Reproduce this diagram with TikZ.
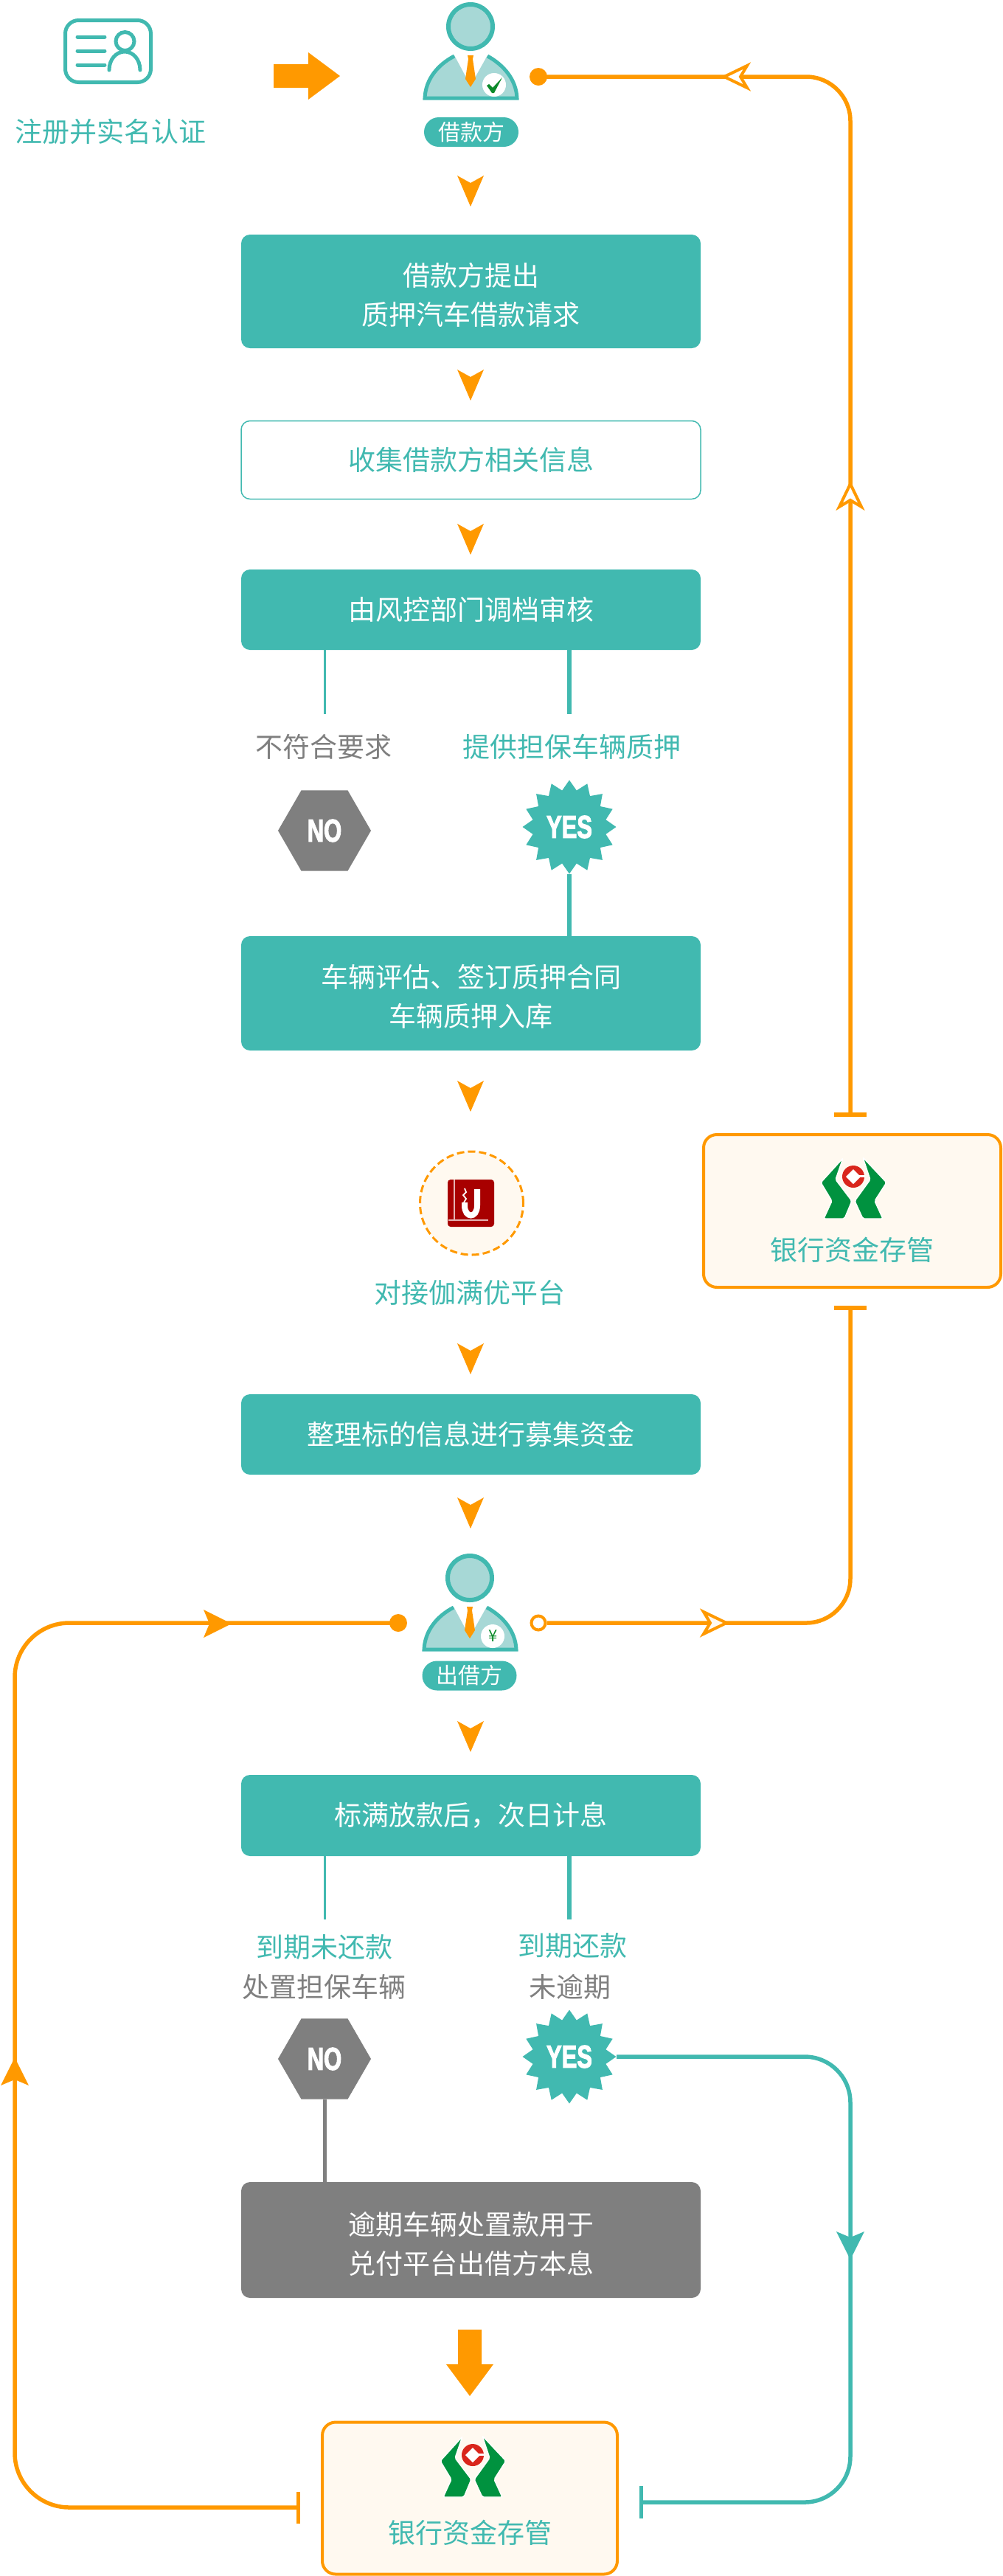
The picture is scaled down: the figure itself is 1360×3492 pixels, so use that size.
\documentclass[tikz,border=0pt]{standalone}
\usepackage{fontspec}
\usepackage{graphicx}
\usetikzlibrary{shapes.geometric}
\setmainfont{Noto Sans CJK SC}
\newfontfamily\badgefont[FakeBold=3]{Liberation Sans}
\definecolor{flowteal}{HTML}{41B9B0}
\definecolor{paleteal}{HTML}{A7D8D6}
\definecolor{floworange}{HTML}{FF9900}
\definecolor{flowgray}{HTML}{7F7F7F}
\definecolor{cream}{HTML}{FFF9F0}
\definecolor{bankgreen}{HTML}{00923F}
\definecolor{bankred}{HTML}{D9261C}
\definecolor{bookred}{HTML}{A80000}
\definecolor{markgreen}{HTML}{0B8A2A}
\newcommand{\badgetext}[1]{\scalebox{0.72}[1]{\fontsize{21.5}{21.5}\badgefont\bfseries #1}}
\newcommand{\linelift}{\rule{0pt}{20.5pt}}
\tikzset{
  bodyfont/.style={font=\fontsize{18.5}{26.5}\selectfont},
  flowbox/.style={rectangle,rounded corners=6pt,fill=flowteal,text=white,bodyfont,align=center,minimum width=311.5pt,inner sep=0pt},
  plainbox/.style={flowbox,fill=white,draw=flowteal,line width=0.75pt,text=flowteal},
  graybox/.style={flowbox,fill=flowgray},
  bankbox/.style={rectangle,rounded corners=9pt,fill=cream,draw=floworange,line width=2pt,inner sep=0pt},
  rolepill/.style={rectangle,rounded corners=10pt,fill=flowteal,text=white,font=\fontsize{15}{15}\selectfont,minimum width=64pt,minimum height=20pt,inner sep=0pt},
  teallabel/.style={text=flowteal,bodyfont,inner sep=0pt},
  graylabel/.style={text=flowgray,bodyfont,inner sep=0pt},
  nohex/.style={regular polygon,regular polygon sides=6,fill=flowgray,text=white,minimum size=63pt,inner sep=0pt},
  yesstar/.style={star,star points=16,star point ratio=1.26,fill=flowteal,text=white,minimum size=63.5pt,inner sep=0pt},
  dotend/.style={circle,fill=floworange,minimum size=12pt,inner sep=0pt},
  ringend/.style={circle,draw=floworange,line width=2pt,fill=white,minimum size=9.5pt,inner sep=0pt},
  barend/.style={rectangle,fill=#1,inner sep=0pt},
  orangeline/.style={draw=floworange,line width=2.75pt},
  tealline/.style={draw=flowteal,line width=2.75pt},
  thinline/.style={draw=flowteal,line width=1.5pt},
  badge/.style={circle,fill=white,minimum size=16pt,inner sep=0pt},
  openarrow/.pic={\draw[draw=floworange,line width=2pt,miter limit=4,pic actions] (-3,0) -- (-34,-15) -- (-25,0) -- (-34,15) -- cycle;},
  fullarrow/.pic={\fill[pic actions] (0,0) -- (-38,-19) -- (-30,0) -- (-38,19) -- cycle;},
  dartarrow/.pic={\fill[floworange] (0,0) -- (-18,-42) -- (0,-32) -- (18,-42) -- cycle;},
  bigarrow/.pic={\fill[floworange] (0,0) -- (-43,-32) -- (-43,-16) -- (-90,-16) -- (-90,16) -- (-43,16) -- (-43,32) -- cycle;},
  person/.pic={
    \fill[paleteal] (-63,98) .. controls (-61,72) and (-45,52) .. (-22,39) -- (0,80) -- (23,39) .. controls (45,52) and (62,72) .. (64,98) -- cycle;
    \draw[flowteal,line width=2.5pt] (-22,40) .. controls (-45,52) and (-61,72) .. (-62,97) -- (63,97) .. controls (62,72) and (45,52) .. (23,40);
    \draw[flowteal,line width=3pt,fill=paleteal] (0,0) circle [radius=30];
    \fill[floworange] (-4,39) -- (4,39) -- (3,44) -- (7,71) -- (0,82) -- (-7,71) -- (-3,44) -- cycle;
  },
  banklogo/.pic={
    \filldraw[bankgreen,draw=white,line width=0.7pt,rounded corners=1pt] (-14,-45) -- (-44,-12) -- (-29,13) -- (-40,37) -- (-12,37) -- (-2,13) -- (-24,-16) -- cycle;
    \filldraw[bankgreen,draw=white,line width=0.7pt,rounded corners=1pt] (13,-46) -- (45,-12) -- (29,13) -- (40,37) -- (13,37) -- (2,13) -- (23,-16) -- cycle;
    \fill[bankred] (0,-20) circle [radius=15];
    \fill[white] (-10,-20) -- (0,-30) -- (10,-20) -- (0,-10) -- cycle;
    \fill[white] (4,-22) rectangle (16,-19.5);
  }
}
\begin{document}
\begin{tikzpicture}[x=0.5pt,y=-0.5pt]
\useasboundingbox (0,0) rectangle (1360,3492);
\draw[flowteal,line width=2.5pt,rounded corners=9pt] (88.5,27.5) rectangle (204.5,111.5);
\draw[flowteal,line width=2.5pt,line cap=round] (105,50) -- (142,50) (105,69) -- (142,69) (105,88) -- (142,88);
\draw[flowteal,line width=2.5pt] (169.5,56) circle [radius=12.5];
\draw[flowteal,line width=2.5pt,line cap=round] (148,95) .. controls (148,80) and (158,70) .. (169,70) .. controls (180,70) and (190,80) .. (190,95);
\node[teallabel] (signup) at (149.5,178) {注册并实名认证};
\pic at (461,103) {bigarrow};
\pic at (638,36) {person};
\node[badge] (badgecheck) at (670,115) {};
\fill[markgreen] (660,116) -- (663,114) -- (668,119) -- (681,105) -- (670,126) -- (667,126) -- cycle;
\node[rolepill] (borrower) at (639,179) {借款方};
\pic at (638,280) {dartarrow};
\node[flowbox,minimum height=77pt] (request) at (638.5,395) {\linelift 借款方提出\\质押汽车借款请求};
\pic at (638,543) {dartarrow};
\node[plainbox,minimum height=53pt] (collect) at (638.5,623.5) {收集借款方相关信息};
\pic at (638,752) {dartarrow};
\node[flowbox,minimum height=54.5pt] (review) at (638.5,826.5) {由风控部门调档审核};
\coordinate (rejectend) at (440,968);
\coordinate (acceptend) at (772,968);
\draw[thinline] (rejectend |- review.south) -- (rejectend);
\draw[tealline] (acceptend |- review.south) -- (acceptend);
\node[graylabel] (reject) at (439,1012) {不符合要求};
\node[teallabel] (accept) at (775,1012) {提供担保车辆质押};
\node[nohex] (noa) at (440,1126) {\badgetext{NO}};
\node[yesstar] (yesa) at (772,1121) {\badgetext{YES}};
\node[flowbox,minimum height=77.5pt] (assess) at (638.5,1346.5) {\linelift 车辆评估、签订质押合同\\车辆质押入库};
\draw[tealline] (yesa.south) -- (yesa.south |- assess.north);
\pic at (638,1507) {dartarrow};
\node[circle,draw=floworange,line width=1.5pt,dashed,dash pattern=on 5pt off 2.5pt,fill=cream,minimum size=70pt,inner sep=0pt] (platform) at (639.5,1631) {};
\fill[bookred,rounded corners=2pt] (607,1599) rectangle (670,1663);
\draw[white!70!bookred,line width=0.6pt] (616,1599) -- (616,1654) (608,1654) -- (662,1654);
\draw[white,line width=4pt] (630,1630) -- (630,1634) .. controls (630,1652) and (647,1652) .. (647,1634) -- (647,1612);
\draw[white,line width=0.9pt] (630,1611) -- (632,1616) -- (628,1620) -- (632,1625) -- (629,1630);
\node[teallabel] (dock) at (637,1752) {对接伽满优平台};
\pic at (638,1863) {dartarrow};
\node[flowbox,minimum height=54.5pt] (raise) at (638.5,1944.5) {整理标的信息进行募集资金};
\pic at (638,2072) {dartarrow};
\pic at (637,2139) {person};
\node[badge] (badgeyen) at (668,2218) {};
\node[text=markgreen,font=\fontsize{11}{11}\selectfont,inner sep=0pt] (yen) at (669,2218) {¥};
\node[rolepill] (lender) at (636.5,2271.5) {出借方};
\pic at (638,2375) {dartarrow};
\node[flowbox,minimum height=55pt] (payout) at (638.5,2461) {标满放款后，次日计息};
\coordinate (overdueend) at (440,2602);
\coordinate (repayend) at (772,2602);
\draw[thinline] (overdueend |- payout.south) -- (overdueend);
\draw[tealline] (repayend |- payout.south) -- (repayend);
\node[teallabel] (overdue) at (440,2639) {到期未还款};
\node[graylabel] (dispose) at (439,2693) {处置担保车辆};
\node[teallabel] (repay) at (776,2637) {到期还款};
\node[graylabel] (ontime) at (773,2693) {未逾期};
\node[nohex] (nob) at (440,2791) {\badgetext{NO}};
\node[yesstar] (yesb) at (772,2788) {\badgetext{YES}};
\node[graybox,minimum height=78.5pt] (settle) at (638.5,3036.5) {\linelift 逾期车辆处置款用于\\兑付平台出借方本息};
\draw[draw=flowgray,line width=2.5pt] (nob.south) -- (nob.south |- settle.north);
\pic[rotate=270] at (637,3248) {bigarrow};
\node[bankbox,minimum width=201.5pt,minimum height=103.5pt] (banka) at (1155.5,1641.5) {};
\pic at (1157,1615) {banklogo};
\node[teallabel] (bankatext) at (1155,1694) {银行资金存管};
\node[bankbox,minimum width=200pt,minimum height=103pt] (bankb) at (637,3386.5) {};
\pic at (641,3348) {banklogo};
\node[teallabel] (bankbtext) at (637,3433) {银行资金存管};
\node[dotend] (dottop) at (730,104) {};
\node[barend=floworange,minimum width=22pt,minimum height=3pt] (bartop) at (1153,1511) {};
\node[barend=floworange,minimum width=22pt,minimum height=3pt] (barlow) at (1153,1773) {};
\node[dotend] (dotleft) at (540,2200) {};
\node[ringend] (ringright) at (730,2200) {};
\node[barend=floworange,minimum width=2.5pt,minimum height=21.5pt] (barleft) at (404,3399) {};
\node[barend=flowteal,minimum width=2.5pt,minimum height=22pt] (barteal) at (869,3392) {};
\coordinate (loopleft) at (20,2200);
\coordinate (looptealend) at (1153,3392);
\draw[orangeline,rounded corners=30pt] (dottop.center) -| (bartop.center);
\draw[orangeline,rounded corners=30pt] (ringright.east) -| (barlow.center);
\draw[orangeline,rounded corners=37pt] (barleft.center) -| (loopleft) -- (dotleft.center);
\draw[tealline,rounded corners=31pt] (yesb.east) -| (looptealend) -- (barteal.center);
\pic[rotate=180,fill=white] at (979,104) {openarrow};
\pic[rotate=90,fill=white] at (1153,653) {openarrow};
\pic[fill=cream] at (988,2200) {openarrow};
\pic[fill=floworange] at (314,2201) {fullarrow};
\pic[rotate=90,fill=floworange] at (20,2789) {fullarrow};
\pic[rotate=270,fill=flowteal] at (1153,3063) {fullarrow};
\end{tikzpicture}
\end{document}
